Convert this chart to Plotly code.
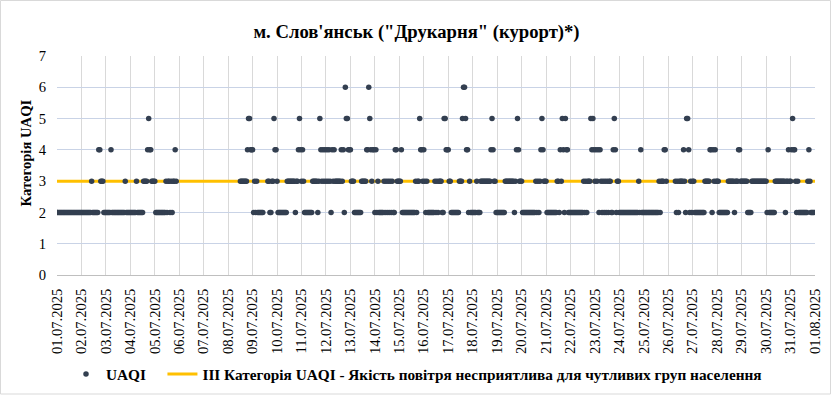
import pandas as pd
import plotly.graph_objects as go

# Hourly UAQI category per day (24 chars per day, "." = no data)
day_labels = ["01.07.2025", "02.07.2025", "03.07.2025", "04.07.2025", "05.07.2025",
              "06.07.2025", "07.07.2025", "08.07.2025", "09.07.2025", "10.07.2025",
              "11.07.2025", "12.07.2025", "13.07.2025", "14.07.2025", "15.07.2025",
              "16.07.2025", "17.07.2025", "18.07.2025", "19.07.2025", "20.07.2025",
              "21.07.2025", "22.07.2025", "23.07.2025", "24.07.2025", "25.07.2025",
              "26.07.2025", "27.07.2025", "28.07.2025", "29.07.2025", "30.07.2025",
              "31.07.2025"]
hourly_values = [
    "222222222222222222222222",
    "222222222232222224433322",
    "222224222222222222232222",
    "222222322222233334544333",
    "3222222222232332323343..",
    "........................",
    "........................",
    "............333333345544",
    "42323222222....332233544",
    "322222222233333333233454",
    "343222222223333323543434",
    "343432434333333434265544",
    "433322222223333344654344",
    "242322222323232323224433",
    "334222222222222232335443",
    "432322222223232333225544",
    "433222222223335665442322",
    "222232223333333333454332",
    "222222223333333332345433",
    "322222222222223232345433",
    "322222222223324354254422",
    "222222222222232323335454",
    "343424323232323322454233",
    "222222222222222222232422",
    "22222222222222232333443.",
    ".......32323333432554232",
    "332222222222333334424343",
    "332222222223333332333443",
    "333333222233333333333333",
    "324222222333333333323343",
    "345443232222222223432222",
]
threshold_value = 3
threshold_span = ["2025-07-01 00:00", "2025-08-01 00:00"]
tick_labels = day_labels + ["01.08.2025"]

for s in hourly_values:
    assert len(s) == 24, s

xs, ys = [], []
for d, (lab, s) in enumerate(zip(day_labels, hourly_values)):
    base = pd.Timestamp(pd.to_datetime(lab, format="%d.%m.%Y"))
    for h, ch in enumerate(s):
        if ch != ".":
            xs.append(base + pd.Timedelta(hours=h))
            ys.append(int(ch))

tick_vals = [pd.to_datetime(t, format="%d.%m.%Y") for t in tick_labels]

SERIF = "Liberation Serif"

fig = go.Figure()
fig.add_trace(go.Scatter(
    x=threshold_span, y=[threshold_value, threshold_value], mode="lines",
    line=dict(color="#FFC000", width=3),
    name="<b>III Категорія UAQI - Якість повітря несприятлива для чутливих груп населення</b>",
    legendrank=2,
))
fig.add_trace(go.Scatter(
    x=xs, y=ys, mode="markers",
    marker=dict(color="#333F50", size=5.5, line=dict(width=0)),
    name="<b>UAQI</b>&nbsp;&nbsp;&nbsp;", legendrank=1,
))

W, H = 832, 395
L, R, T, B = 57, 17, 56, 120
pw, ph = W - L - R, H - T - B

fig.update_layout(
    width=W, height=H,
    margin=dict(l=L, r=R, t=T, b=B, autoexpand=False),
    paper_bgcolor="white", plot_bgcolor="white",
    title=dict(text="<b>м. Слов'янськ (\"Друкарня\" (курорт)*)</b>",
               x=(416.5 - L) / pw, xref="paper", xanchor="center",
               y=1 - 31 / H, yanchor="middle",
               font=dict(family=SERIF, size=18.67, color="#000000")),
    font=dict(family=SERIF, color="#000000"),
    showlegend=True,
    legend=dict(orientation="h", x=(66 - L) / pw, xanchor="left",
                y=(T + ph - 374) / ph, yanchor="middle",
                font=dict(family=SERIF, size=15.3, color="#000000"),
                bgcolor="rgba(0,0,0,0)", itemwidth=30, tracegroupgap=0),
    xaxis=dict(
        range=[tick_vals[0], tick_vals[-1]], automargin=False,
        tickmode="array", tickvals=tick_vals, ticktext=tick_labels,
        tickangle=-90, tickfont=dict(family=SERIF, size=14.5, color="#000000"),
        ticklabelstandoff=7,
        showgrid=True, gridcolor="#D9D9D9", gridwidth=1,
        showline=True, linecolor="#BFBFBF", linewidth=1,
        ticks="", zeroline=False,
    ),
    yaxis=dict(
        range=[0, 7], dtick=1, tick0=0, automargin=False,
        tickfont=dict(family=SERIF, size=14.67, color="#000000"),
        ticklabelstandoff=10,
        showgrid=True, gridcolor="#C9D3E6", gridwidth=1,
        showline=False, zeroline=False, ticks="",
    ),
)

fig.add_annotation(text="<b>Категорія UAQI</b>", textangle=-90,
                   xref="paper", yref="paper",
                   x=(25 - L) / pw, y=(T + ph - 153.5) / ph,
                   xanchor="center", yanchor="middle", showarrow=False,
                   font=dict(family=SERIF, size=14.67, color="#000000"))

fig.add_shape(type="rect", xref="paper", yref="paper",
              x0=(0.5 - L) / pw, x1=(830.5 - L) / pw,
              y0=(T + ph - 394) / ph, y1=(T + ph - 0.5) / ph,
              line=dict(color="#D9D9D9", width=1), fillcolor="rgba(0,0,0,0)", layer="below")

fig.write_html("out.html", config={"displayModeBar": False},
               post_script="document.body.style.margin='0';document.body.style.overflow='hidden';")
